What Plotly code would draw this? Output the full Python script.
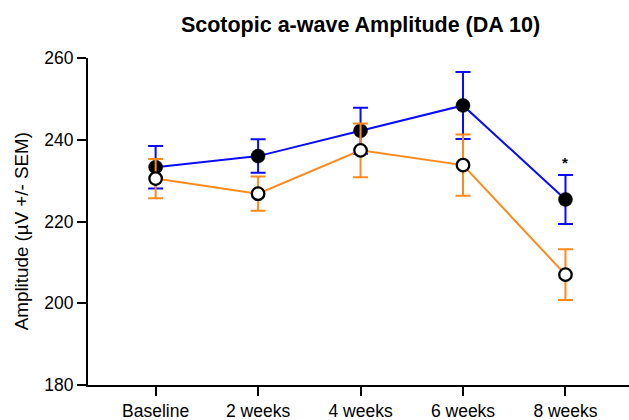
import plotly.graph_objects as go

# Time points and group summaries (mean amplitude, SEM) in microvolts
timepoints = ["Baseline", "2 weeks", "4 weeks", "6 weeks", "8 weeks"]
group_a_mean = [233.3, 236.0, 242.2, 248.4, 225.4]
group_a_sem = [5.2, 4.1, 5.6, 8.2, 6.0]
group_b_mean = [230.5, 226.8, 237.4, 233.8, 207.0]
group_b_sem = [4.8, 4.2, 6.6, 7.5, 6.2]

# Significance marker: (time point index, height in µV)
sig_index = 4
sig_y = 235.2

y_ticks = [180, 200, 220, 240, 260]

BLUE = "#0A0AFF"
ORANGE = "#FF8A1C"
FONT = "Liberation Sans, Arial, Helvetica, sans-serif"

W, H = 629, 420
L, R, T, B = 88, 0, 57.7, 34.7
pw, ph = W - L - R, H - T - B

x_idx = list(range(len(timepoints)))

fig = go.Figure()

fig.add_trace(go.Scatter(
    x=x_idx, y=group_a_mean, mode="lines+markers", name="Group A",
    line=dict(color=BLUE, width=2),
    marker=dict(symbol="circle", size=14, color="black", line=dict(color="black", width=0.5)),
    error_y=dict(type="data", array=group_a_sem, visible=True, color=BLUE, thickness=2, width=7.5),
    showlegend=False,
))

fig.add_trace(go.Scatter(
    x=x_idx, y=group_b_mean, mode="lines+markers", name="Group B",
    line=dict(color=ORANGE, width=2),
    marker=dict(symbol="circle", size=12.5, color="white", line=dict(color="black", width=2.3)),
    error_y=dict(type="data", array=group_b_sem, visible=True, color=ORANGE, thickness=2, width=7.5),
    showlegend=False,
))

fig.add_annotation(
    x=sig_index, y=sig_y, xref="x", yref="y", text="<b>*</b>", showarrow=False,
    font=dict(family=FONT, size=15, color="black"), yanchor="middle", yshift=-3,
)

# Rotated y-axis title placed beside the axis (pixel position converted to paper units)
fig.add_annotation(
    x=(21.7 - L) / pw, y=(H - 231.5 - B) / ph, xref="paper", yref="paper",
    text="Amplitude (µV +/- SEM)", textangle=-90, showarrow=False,
    font=dict(family=FONT, size=18.8, color="black"),
    xanchor="center", yanchor="middle",
)

fig.update_layout(
    width=W, height=H,
    margin=dict(l=L, r=R, t=T, b=B, pad=0),
    paper_bgcolor="white", plot_bgcolor="white",
    font=dict(family=FONT, color="black"),
    title=dict(
        text="<b>Scotopic a-wave Amplitude (DA 10)</b>",
        x=360.5 / W, xanchor="center", y=1 - 24 / H, yanchor="middle", yref="container",
        font=dict(family=FONT, size=21.5, color="black"),
    ),
)

fig.update_xaxes(
    range=[-0.66, 4.62], tickmode="array", tickvals=x_idx, ticktext=timepoints,
    showline=True, linecolor="black", linewidth=1.9, showgrid=False, zeroline=False,
    ticks="outside", ticklen=9, tickwidth=1.9, tickcolor="black",
    tickfont=dict(family=FONT, size=17.5, color="black"),
)

fig.update_yaxes(
    range=[180, 260], tickmode="array", tickvals=y_ticks,
    showline=True, linecolor="black", linewidth=1.9, showgrid=False, zeroline=False,
    ticks="outside", ticklen=9, tickwidth=1.9, tickcolor="black",
    tickfont=dict(family=FONT, size=17.5, color="black"),
)

fig.write_html("out.html")
